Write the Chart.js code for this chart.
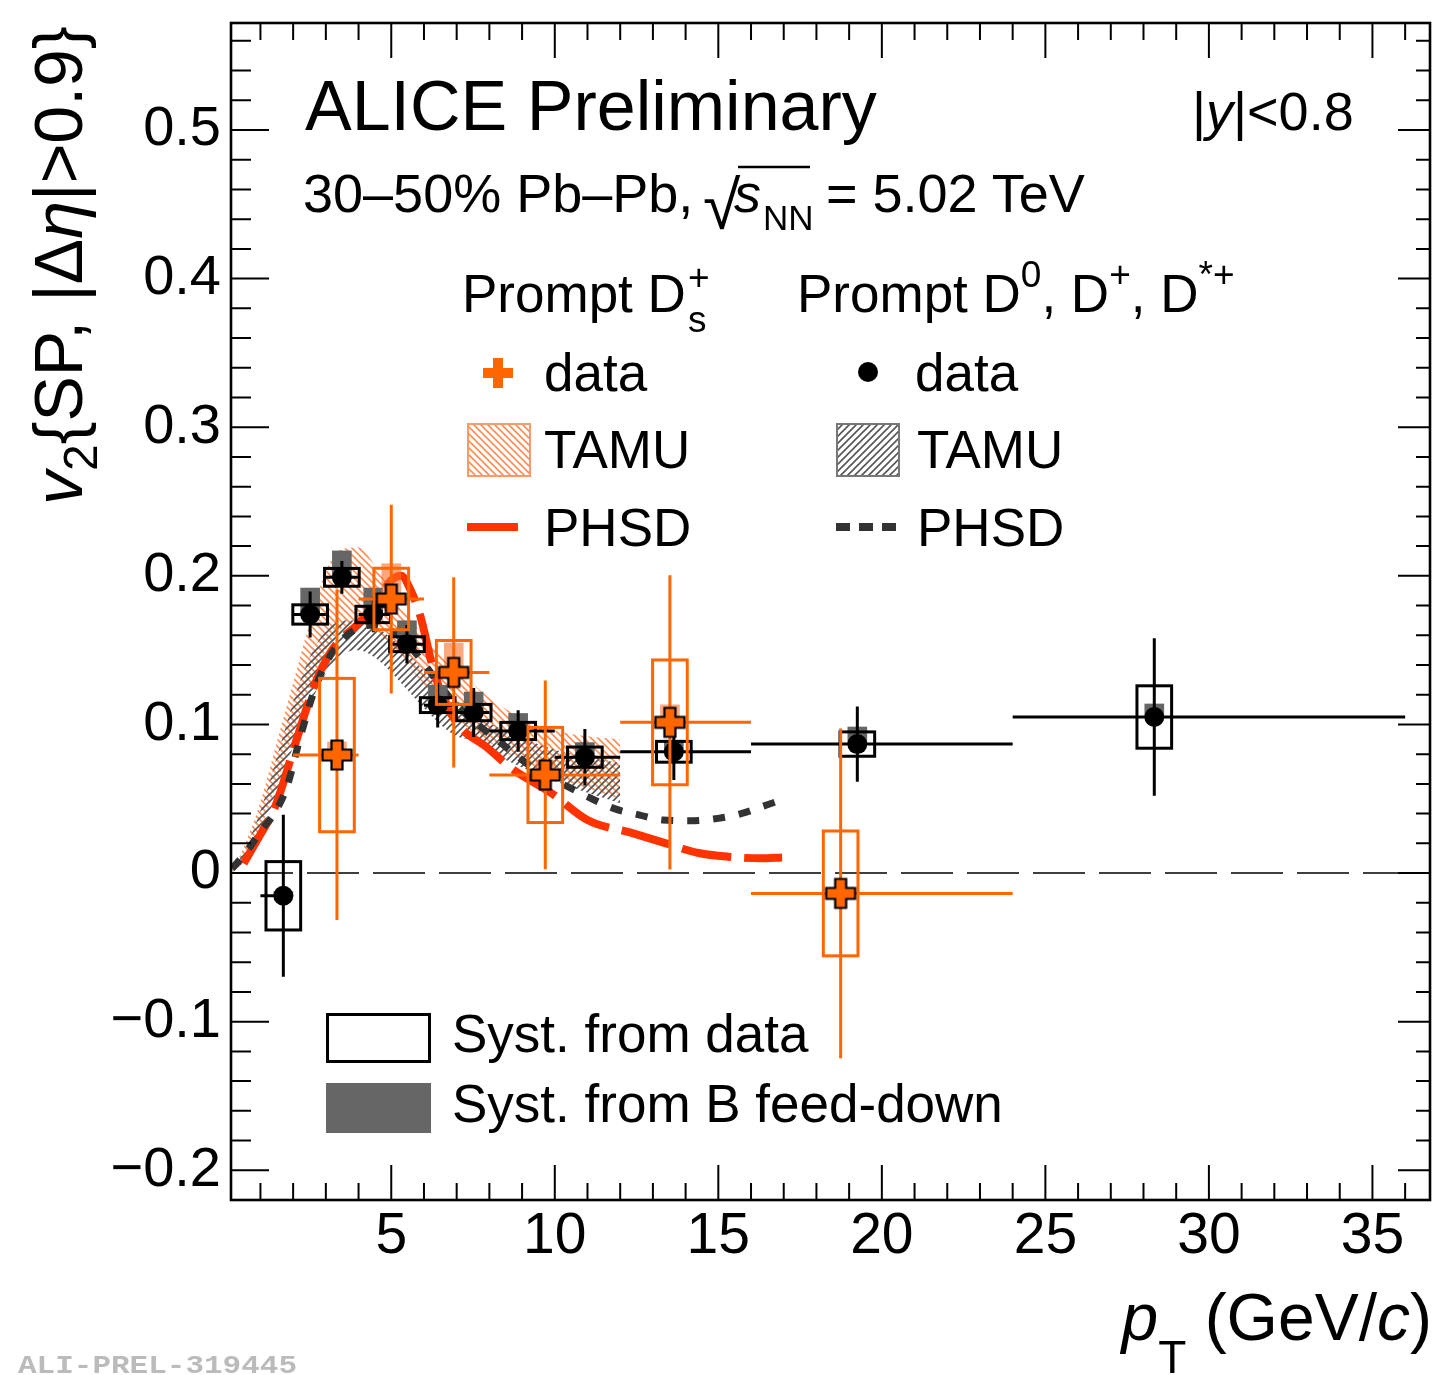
<!DOCTYPE html>
<html><head><meta charset="utf-8">
<script src="https://cdn.jsdelivr.net/npm/chart.js@4"></script>
<style>
html,body{margin:0;padding:0;background:#fff;}
#wrap{position:relative;width:1435px;height:1375px;overflow:hidden;}
#c{position:absolute;left:0;top:0;}
svg{position:absolute;left:0;top:0;pointer-events:none;}
text{font-family:"Liberation Sans",Arial,Helvetica,sans-serif;fill:#000;}
</style></head><body>
<div id="wrap">
<canvas id="c" width="1435" height="1375"></canvas>
<svg width="1435" height="1375" xmlns="http://www.w3.org/2000/svg">
<defs>
<pattern id="hOr" width="7" height="7" patternUnits="userSpaceOnUse"><path d="M0,0 L7,7 M-1,6 L1,8 M6,-1 L8,1" stroke="#ff8c55" stroke-width="1.6"/></pattern>
<pattern id="hGr" width="7" height="7" patternUnits="userSpaceOnUse"><path d="M0,7 L7,0 M-1,1 L1,-1 M6,8 L8,6" stroke="#555" stroke-width="1.6"/></pattern>
</defs>
<text x="305" y="130" font-size="70">ALICE Preliminary</text>
<text x="1192" y="130" font-size="54">|<tspan font-style="italic">y</tspan>|&lt;0.8</text>
<text x="303" y="212" font-size="54">30–50% Pb–Pb,</text>
<text x="703" y="229" font-size="68">√</text>
<line x1="738" y1="167" x2="810" y2="167" stroke="#000" stroke-width="2.5"/>
<text x="734" y="212" font-size="54" font-style="italic">s</text>
<text x="763" y="230" font-size="35">NN</text>
<text x="826" y="212" font-size="54">= 5.02 TeV</text>
<text x="462" y="312" font-size="53">Prompt D<tspan x="688" y="290" font-size="37">+</tspan><tspan x="688" y="332" font-size="37">s</tspan></text>
<text x="797" y="312" font-size="53">Prompt D<tspan font-size="37" dy="-25">0</tspan><tspan dy="25">, D</tspan><tspan font-size="37" dy="-25">+</tspan><tspan dy="25">, D</tspan><tspan font-size="37" dy="-25">*+</tspan></text>
<path d="M493,358 h10 v10 h10 v10 h-10 v10 h-10 v-10 h-10 v-10 h10 z" fill="#ff6600"/>
<circle cx="868" cy="372" r="10" fill="#000"/>
<text x="544" y="391" font-size="53">data</text>
<text x="915" y="391" font-size="53">data</text>
<rect x="468" y="424" width="62" height="52" fill="url(#hOr)" stroke="#ff9966" stroke-width="2"/>
<rect x="837" y="424" width="62" height="52" fill="url(#hGr)" stroke="#777" stroke-width="2"/>
<text x="544" y="468" font-size="53">TAMU</text>
<text x="917" y="468" font-size="53">TAMU</text>
<line x1="467" y1="527" x2="518" y2="527" stroke="#ff3300" stroke-width="8"/>
<line x1="836" y1="527" x2="900" y2="527" stroke="#333" stroke-width="8" stroke-dasharray="14 9"/>
<text x="544" y="546" font-size="53">PHSD</text>
<text x="917" y="546" font-size="53">PHSD</text>
<rect x="327.5" y="1014.5" width="102" height="47" fill="none" stroke="#000" stroke-width="3"/>
<text x="452" y="1052" font-size="53">Syst. from data</text>
<rect x="326" y="1083" width="105" height="50" fill="#666"/>
<text x="452" y="1122" font-size="53">Syst. from B feed-down</text>
<text transform="translate(82,505) rotate(-90)" font-size="68"><tspan font-style="italic">v</tspan><tspan font-size="48" dy="15">2</tspan><tspan dy="-15">{SP, |Δ</tspan><tspan font-style="italic">η</tspan><tspan>|&gt;0.9}</tspan></text>
<text x="1432" y="1340" font-size="66" text-anchor="end"><tspan font-style="italic">p</tspan><tspan font-size="46" dy="33">T</tspan><tspan dy="-33"> (GeV/</tspan><tspan font-style="italic">c</tspan><tspan>)</tspan></text>
<text x="18" y="1373" font-size="26" font-weight="bold" textLength="279" lengthAdjust="spacingAndGlyphs" style="font-family:'Liberation Mono','DejaVu Sans Mono',monospace;fill:#bbb">ALI-PREL-319445</text>
</svg>
</div>
<script>
// ---------------- data ----------------
const xTickValues = [5, 10, 15, 20, 25, 30, 35];
const xTickLabels = ['5', '10', '15', '20', '25', '30', '35'];
const yTickValues = [-0.2, -0.1, 0, 0.1, 0.2, 0.3, 0.4, 0.5];
const yTickLabels = ['\u22120.2', '\u22120.1', '0', '0.1', '0.2', '0.3', '0.4', '0.5'];

// Prompt D0, D+, D*+ (black)
const dPt     = [1.70, 2.52, 3.49, 4.45, 5.48, 6.42, 7.52, 8.88, 10.92, 13.64, 19.25, 28.33];
const dPtLow  = [1, 2, 3, 4, 5, 6, 7, 8, 10, 12, 16, 24];
const dPtHigh = [2, 3, 4, 5, 6, 7, 8, 10, 12, 16, 24, 36];
const dV2     = [-0.0153, 0.174, 0.199, 0.174, 0.154, 0.113, 0.108, 0.0956, 0.078, 0.0816, 0.0868, 0.105];
const dStat   = [0.0545, 0.0155, 0.011, 0.012, 0.013, 0.015, 0.0165, 0.014, 0.019, 0.019, 0.0253, 0.053];
const dSyst   = [0.023, 0.0065, 0.006, 0.0055, 0.005, 0.005, 0.0055, 0.0058, 0.0068, 0.007, 0.0082, 0.021];
const dFdUp   = [0.003, 0.018, 0.018, 0.018, 0.016, 0.0135, 0.014, 0.012, 0.010, 0.008, 0.0117, 0.009];

// Prompt Ds+ (orange)
const dsPt     = [3.34, 5.0, 6.91, 9.71, 13.52, 18.74];
const dsPtLow  = [2, 4, 6, 8, 12, 16];
const dsPtHigh = [4, 6, 8, 12, 16, 24];
const dsV2     = [0.0794, 0.1844, 0.135, 0.066, 0.1014, -0.0137];
const dsStat   = [0.111, 0.0635, 0.064, 0.0635, 0.099, 0.111];
const dsSyst   = [0.0516, 0.0207, 0.0215, 0.032, 0.042, 0.042];
const dsFdUp   = [0.009, 0.024, 0.020, 0.010, 0.012, 0.003];

// TAMU bands
const tamuPt     = [0.1, 0.5, 1.0, 1.5, 2.0, 2.5, 3.0, 3.5, 4.0, 4.5, 5.0, 5.5, 6.0, 6.5, 7.0, 7.5, 8.0, 9.0, 10.0, 11.0, 12.0];
const tamuDsHigh = [0.000, 0.018, 0.048, 0.088, 0.128, 0.168, 0.203, 0.218, 0.219, 0.207, 0.190, 0.173, 0.160, 0.148, 0.137, 0.127, 0.118, 0.104, 0.096, 0.092, 0.090];
const tamuDsLow  = [0.000, 0.008, 0.030, 0.060, 0.094, 0.125, 0.150, 0.165, 0.168, 0.163, 0.153, 0.140, 0.127, 0.115, 0.104, 0.095, 0.088, 0.075, 0.065, 0.057, 0.050];
const tamuDHigh  = [0.000, 0.015, 0.042, 0.078, 0.115, 0.145, 0.163, 0.170, 0.170, 0.166, 0.158, 0.148, 0.136, 0.125, 0.116, 0.108, 0.101, 0.091, 0.083, 0.078, 0.074];
const tamuDLow   = [0.000, 0.008, 0.027, 0.054, 0.085, 0.113, 0.134, 0.147, 0.150, 0.145, 0.135, 0.123, 0.111, 0.100, 0.092, 0.089, 0.082, 0.071, 0.062, 0.054, 0.047];

// PHSD curves
const phsdDsPt = [0.49, 1.0, 1.45, 2.07, 2.68, 3.1, 3.49, 4.0, 4.5, 5.0, 5.3, 5.6, 5.9, 6.25, 6.6, 7.1, 7.9, 8.7, 9.9, 11.0, 12.4, 13.4, 14.4, 15.3, 16.3, 16.95];
const phsdDsV2 = [0.0065, 0.026, 0.0446, 0.0873, 0.128, 0.147, 0.158, 0.168, 0.182, 0.197, 0.200, 0.190, 0.172, 0.140, 0.117, 0.0985, 0.085, 0.070, 0.0537, 0.0357, 0.0267, 0.020, 0.0135, 0.011, 0.0099, 0.0105];
const phsdDPt  = [0.13, 0.6, 1.0, 1.45, 1.81, 2.2, 2.68, 3.1, 3.5, 4.0, 4.5, 5.0, 5.5, 6.0, 6.5, 7.0, 7.7, 8.5, 9.5, 10.5, 11.0, 11.8, 12.6, 13.3, 14.1, 15.0, 15.7, 16.5, 16.9];
const phsdDV2  = [0.003, 0.015, 0.028, 0.041, 0.058, 0.090, 0.125, 0.145, 0.157, 0.165, 0.167, 0.163, 0.154, 0.141, 0.126, 0.113, 0.099, 0.085, 0.068, 0.057, 0.0514, 0.0435, 0.039, 0.0357, 0.0352, 0.0368, 0.040, 0.046, 0.049];

// ---------------- drawing ----------------
const FONT = '"Liberation Sans", Arial, Helvetica, sans-serif';
const canvas = document.getElementById('c');
const ctx0 = canvas.getContext('2d');

function hatch(color, dir) {
  const s = 7, c = document.createElement('canvas');
  c.width = s; c.height = s;
  const g = c.getContext('2d');
  g.strokeStyle = color; g.lineWidth = 1.6; g.beginPath();
  if (dir > 0) { g.moveTo(0, s); g.lineTo(s, 0); g.moveTo(-1, 1); g.lineTo(1, -1); g.moveTo(s - 1, s + 1); g.lineTo(s + 1, s - 1); }
  else { g.moveTo(0, 0); g.lineTo(s, s); g.moveTo(-1, s - 1); g.lineTo(1, s + 1); g.moveTo(s - 1, -1); g.lineTo(s + 1, 1); }
  g.stroke();
  return ctx0.createPattern(c, 'repeat');
}

function plusMarker() {
  const s = 34, c = document.createElement('canvas');
  c.width = s; c.height = s;
  const g = c.getContext('2d');
  const m = s / 2, L = 14.5, W = 5.5;
  g.beginPath();
  g.moveTo(m - W, m - L); g.lineTo(m + W, m - L); g.lineTo(m + W, m - W); g.lineTo(m + L, m - W);
  g.lineTo(m + L, m + W); g.lineTo(m + W, m + W); g.lineTo(m + W, m + L); g.lineTo(m - W, m + L);
  g.lineTo(m - W, m + W); g.lineTo(m - L, m + W); g.lineTo(m - L, m - W); g.lineTo(m - W, m - W);
  g.closePath();
  g.fillStyle = '#ff6600'; g.fill();
  g.lineWidth = 2.2; g.strokeStyle = '#000'; g.stroke();
  return c;
}

const pts = (xs, ys) => xs.map((x, i) => ({ x: x, y: ys[i] }));

const seriesD = { pt: dPt, lo: dPtLow, hi: dPtHigh, v2: dV2, stat: dStat, syst: dSyst, fd: dFdUp,
  color: '#000', fdColor: '#666' };
const seriesDs = { pt: dsPt, lo: dsPtLow, hi: dsPtHigh, v2: dsV2, stat: dsStat, syst: dsSyst, fd: dsFdUp,
  color: '#ff6600', fdColor: 'rgba(255,110,40,0.6)' };

const BOX_HALF = 0.53, FD_HALF = 0.3;

function drawSeries(chart, s) {
  const { ctx, chartArea: a, scales: { x, y } } = chart;
  ctx.save();
  ctx.beginPath(); ctx.rect(a.left, a.top, a.right - a.left, a.bottom - a.top); ctx.clip();
  ctx.fillStyle = s.fdColor;
  s.pt.forEach((p, i) => {
    const x0 = x.getPixelForValue(p - FD_HALF), x1 = x.getPixelForValue(p + FD_HALF);
    const y0 = y.getPixelForValue(s.v2[i] + s.fd[i]), y1 = y.getPixelForValue(s.v2[i]);
    ctx.fillRect(x0, y0, x1 - x0, y1 - y0);
  });
  ctx.strokeStyle = s.color; ctx.lineWidth = 3;
  s.pt.forEach((p, i) => {
    const x0 = x.getPixelForValue(p - BOX_HALF), x1 = x.getPixelForValue(p + BOX_HALF);
    const y0 = y.getPixelForValue(s.v2[i] + s.syst[i]), y1 = y.getPixelForValue(s.v2[i] - s.syst[i]);
    ctx.strokeRect(x0, y0, x1 - x0, y1 - y0);
  });
  ctx.beginPath();
  s.pt.forEach((p, i) => {
    const px = x.getPixelForValue(p), py = y.getPixelForValue(s.v2[i]);
    ctx.moveTo(x.getPixelForValue(s.lo[i]), py); ctx.lineTo(x.getPixelForValue(s.hi[i]), py);
    ctx.moveTo(px, y.getPixelForValue(s.v2[i] + s.stat[i])); ctx.lineTo(px, y.getPixelForValue(s.v2[i] - s.stat[i]));
  });
  ctx.stroke();
  ctx.restore();
}

const rootPlugin = {
  id: 'rootStyle',
  beforeDatasetsDraw(chart) {
    const { ctx, chartArea: a, scales: { y } } = chart;
    const py = y.getPixelForValue(0);
    ctx.save();
    ctx.strokeStyle = '#000'; ctx.lineWidth = 1.6; ctx.setLineDash([52, 14]);
    ctx.beginPath(); ctx.moveTo(a.left + 10, py); ctx.lineTo(a.right, py); ctx.stroke();
    ctx.restore();
  },
  beforeDatasetDraw(chart, args) {
    if (args.index === 6) drawSeries(chart, seriesD);
    if (args.index === 7) drawSeries(chart, seriesDs);
  },
  afterDraw(chart) {
    const { ctx, chartArea: a, scales: { x, y } } = chart;
    ctx.save();
    ctx.strokeStyle = '#000';
    ctx.lineWidth = 2;
    ctx.beginPath();
    for (let v = Math.ceil(x.min); v <= x.max; v += 1) {
      const px = x.getPixelForValue(v);
      const major = xTickValues.includes(v);
      const lb = major ? 35 : 17, lt = major ? 35 : 17;
      ctx.moveTo(px, a.bottom); ctx.lineTo(px, a.bottom - lb);
      ctx.moveTo(px, a.top); ctx.lineTo(px, a.top + lt);
    }
    for (let k = Math.ceil(y.min / 0.02); k * 0.02 <= y.max + 1e-9; k++) {
      const v = k * 0.02;
      const py = y.getPixelForValue(v);
      const major = (k % 5 === 0);
      const ll = major ? 38 : 20, lr = major ? 32 : 14;
      ctx.moveTo(a.left, py); ctx.lineTo(a.left + ll, py);
      ctx.moveTo(a.right, py); ctx.lineTo(a.right - lr, py);
    }
    ctx.stroke();
    ctx.lineWidth = 2.6;
    ctx.strokeRect(a.left, a.top, a.right - a.left, a.bottom - a.top);
    ctx.restore();
  }
};

const orangeHatch = hatch('#ff8c55', -1);
const grayHatch = hatch('#555', 1);

const chart = new Chart(canvas, {
  type: 'line',
  data: {
    datasets: [
      { data: pts(tamuPt, tamuDsLow), borderWidth: 0, pointRadius: 0, fill: false, order: 20, cubicInterpolationMode: 'monotone' },
      { data: pts(tamuPt, tamuDsHigh), borderWidth: 0, pointRadius: 0, fill: 0, backgroundColor: orangeHatch, order: 19, cubicInterpolationMode: 'monotone' },
      { data: pts(tamuPt, tamuDLow), borderWidth: 0, pointRadius: 0, fill: false, order: 18, cubicInterpolationMode: 'monotone' },
      { data: pts(tamuPt, tamuDHigh), borderWidth: 0, pointRadius: 0, fill: 2, backgroundColor: grayHatch, order: 17, cubicInterpolationMode: 'monotone' },
      { data: pts(phsdDsPt, phsdDsV2), borderColor: '#ff3300', borderWidth: 8, borderDash: [50, 13], pointRadius: 0, fill: false, order: 16, cubicInterpolationMode: 'monotone' },
      { data: pts(phsdDPt, phsdDV2), borderColor: '#333', borderWidth: 7, borderDash: [12, 14], pointRadius: 0, fill: false, order: 15, cubicInterpolationMode: 'monotone' },
      { data: pts(dPt, dV2), showLine: false, pointStyle: 'circle', pointRadius: 10, pointBackgroundColor: '#000', pointBorderWidth: 0, order: 2 },
      { data: pts(dsPt, dsV2), showLine: false, pointStyle: plusMarker(), pointRadius: 17, order: 1 }
    ]
  },
  options: {
    responsive: false,
    animation: false,
    devicePixelRatio: 1,
    events: [],
    layout: { autoPadding: false, padding: { left: 0, right: 5, top: 23, bottom: 0 } },
    plugins: { legend: { display: false }, tooltip: { enabled: false } },
    scales: {
      x: {
        type: 'linear', min: 0.1, max: 36.76,
        grid: { display: false, drawTicks: false }, border: { display: false },
        ticks: { color: '#000', font: { family: FONT, size: 57 }, padding: 3, maxRotation: 0, autoSkip: false,
                 callback: (v, i) => xTickLabels[i] },
        afterBuildTicks: s => { s.ticks = xTickValues.map(v => ({ value: v })); },
        afterFit: s => { s.height = 175; s.paddingLeft = 0; s.paddingRight = 0; s.paddingTop = 0; s.paddingBottom = 0; }
      },
      y: {
        type: 'linear', min: -0.22, max: 0.572,
        grid: { display: false, drawTicks: false }, border: { display: false },
        ticks: { color: '#000', font: { family: FONT, size: 56 }, padding: 10,
                 callback: (v, i) => yTickLabels[i] },
        afterBuildTicks: s => { s.ticks = yTickValues.map(v => ({ value: v })); },
        afterFit: s => { s.width = 231; s.paddingLeft = 0; s.paddingRight = 0; s.paddingTop = 0; s.paddingBottom = 0; }
      }
    }
  },
  plugins: [rootPlugin]
});
</script>
</body></html>
